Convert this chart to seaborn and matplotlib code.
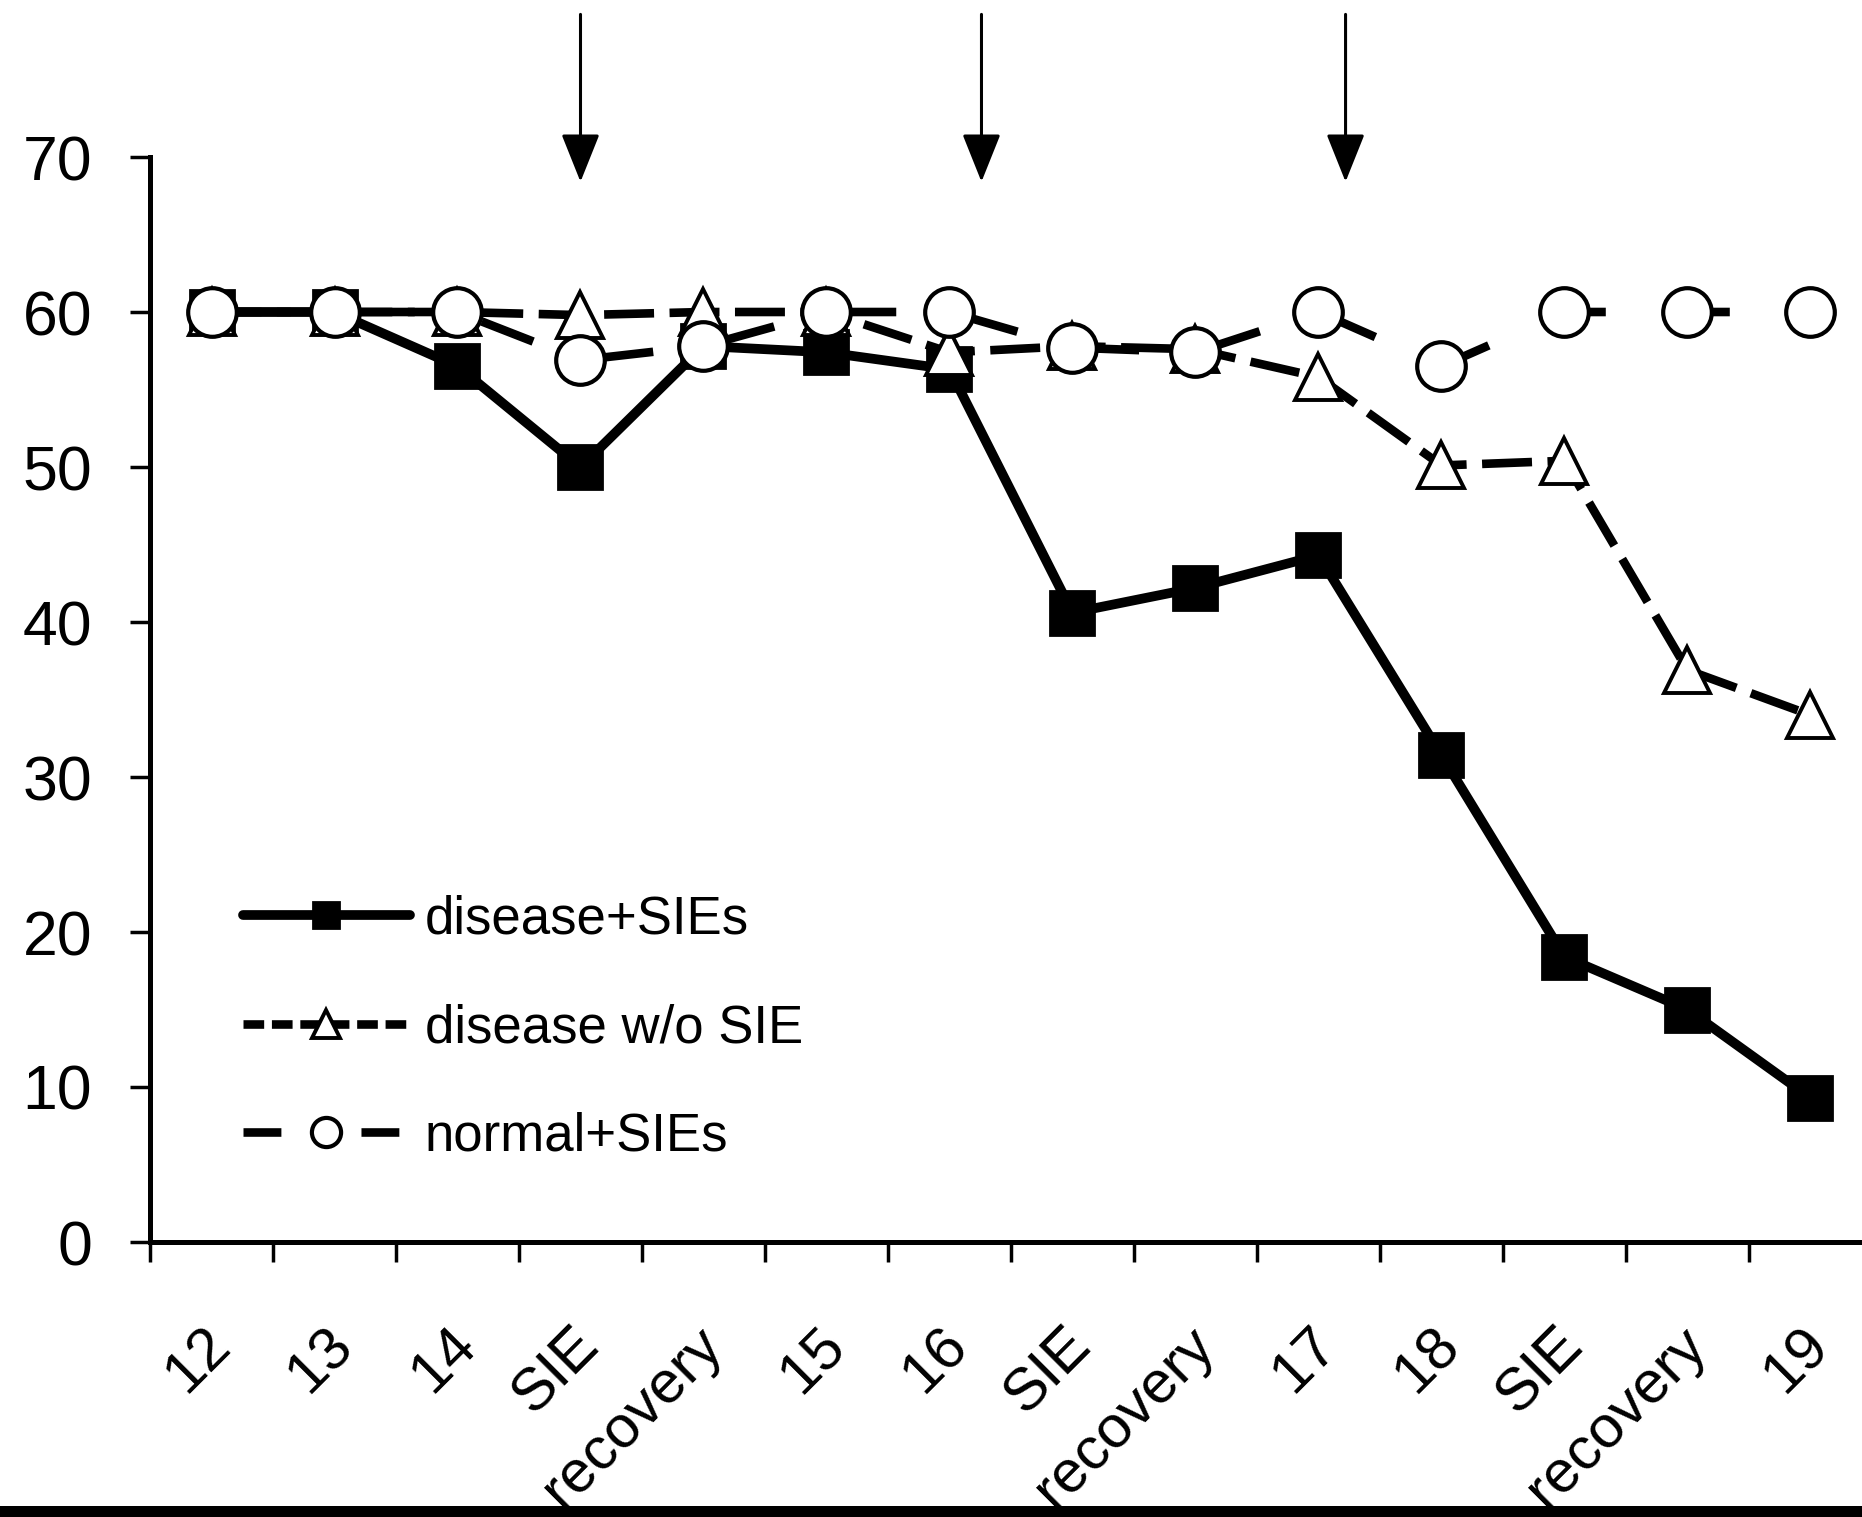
import numpy as np
import pandas as pd
import matplotlib
matplotlib.use("Agg")
import matplotlib.pyplot as plt
import seaborn as sns
from matplotlib.patches import Rectangle, ArrowStyle
from matplotlib.transforms import ScaledTranslation

# ---------------- data ----------------
categories = ["12", "13", "14", "SIE", "recovery", "15", "16", "SIE",
              "recovery", "17", "18", "SIE", "recovery", "19"]
disease_sies = [60, 60, 56.5, 50.0, 57.8, 57.4, 56.3, 40.6, 42.2, 44.3, 31.4, 18.4, 15.0, 9.3]
disease_wo_sie = [60, 60, 60, 59.8, 60, 60, 57.4, 57.8, 57.6, 55.8, 50.1, 50.4, 36.9, 34.0]
normal_sies = [60, 60, 60, 56.9, 57.8, 60, 60, 57.7, 57.4, 60, 56.5, 60, 60, 60]
series_names = ["disease+SIEs", "disease w/o SIE", "normal+SIEs"]
arrow_x = [3.0, 6.26, 9.22]
y_ticks = [0, 10, 20, 30, 40, 50, 60, 70]

# ---------------- style ----------------
sns.set_style("ticks")
plt.rcParams["font.family"] = ["Liberation Sans", "DejaVu Sans"]
plt.rcParams["text.color"] = "black"

W, H = 1862, 1517
fig = plt.figure(figsize=(W / 100, H / 100), dpi=100)
fig.patch.set_facecolor("white")
# axes: left spine at x=150px, x-limit right at 1872px (beyond the figure edge), y0 at 1242px, y70 at 157px
ax = fig.add_axes([150 / W, (H - 1242) / H, 1722 / W, 1085 / H])

x_pos = np.arange(len(categories))
df = pd.DataFrame({
    "x": np.tile(x_pos, 3),
    "value": disease_sies + disease_wo_sie + normal_sies,
    "series": np.repeat(series_names, len(categories)),
})

styles = {
    "disease+SIEs": dict(marker="s", linestyle="-", mfc="black", ms=32, lw=7.0, mew=2.0,
                         leg_ls="-"),
    "disease w/o SIE": dict(marker="^", linestyle=(0, (5.8, 1.8)), mfc="white", ms=33, lw=6.2, mew=2.8,
                            leg_ls=(0, (2.4, 0.9))),
    "normal+SIEs": dict(marker="o", linestyle=(11.6, (6.4, 8.0)), mfc="white", ms=35, lw=6.2, mew=3.0,
                        leg_ls=(0, (4.4, 9.3))),
}

handles = []
for name in series_names:
    st = styles[name]
    sub = df[df["series"] == name]
    sns.lineplot(data=sub, x="x", y="value", ax=ax, sort=False, errorbar=None,
                 color="black", linewidth=st["lw"], linestyle=st["linestyle"],
                 marker=st["marker"], markersize=st["ms"],
                 markerfacecolor=st["mfc"], markeredgecolor="black",
                 markeredgewidth=st["mew"], label=name, legend=False)
    line = ax.lines[-1]
    line.set_label(name)
    handles.append(line)

# ---------------- axes ----------------
ax.set_xlim(-0.5, len(categories) - 0.5)
ax.set_ylim(0, 70)
ax.set_yticks(y_ticks)
ax.set_yticklabels([str(v) for v in y_ticks])
ax.set_xticks(x_pos)
ax.set_xticklabels(categories)
ax.set_xticks(np.arange(-0.5, len(categories), 1.0), minor=True)
ax.set_xlabel("")
ax.set_ylabel("")

for side in ["top", "right"]:
    ax.spines[side].set_visible(False)
for side in ["left", "bottom"]:
    ax.spines[side].set_linewidth(3.6)
    ax.spines[side].set_color("black")

ax.tick_params(axis="y", which="major", direction="out", length=14.5, width=2.5,
               labelsize=45, pad=27, colors="black")
ax.tick_params(axis="x", which="major", length=0, labelsize=43, pad=68, colors="black")
ax.tick_params(axis="x", which="minor", direction="out", length=14.5, width=2.5, colors="black")

offset = ScaledTranslation(10 / 100, 0, fig.dpi_scale_trans)
for lab in ax.get_xticklabels():
    lab.set_rotation(45)
    lab.set_rotation_mode("anchor")
    lab.set_ha("right")
    lab.set_va("center")
    lab.set_transform(lab.get_transform() + offset)

# ---------------- arrows ----------------
astyle = ArrowStyle("-|>", head_length=0.6, head_width=0.24)
for xa in arrow_x:
    ax.annotate("", xy=(xa, 68.4), xytext=(xa, 79.2), xycoords="data",
                arrowprops=dict(arrowstyle=astyle, color="black", lw=2.2,
                                mutation_scale=50, shrinkA=0, shrinkB=0),
                annotation_clip=False)

# ---------------- legend ----------------
leg = ax.legend(handles=handles, labels=series_names, loc="center left",
                bbox_to_anchor=(0.054, 0.197), frameon=False, fontsize=38,
                handlelength=3.16, handletextpad=0.28, labelspacing=1.11,
                borderpad=0, borderaxespad=0, markerscale=0.6, labelcolor="black")
for leg_line, name in zip(leg.get_lines(), series_names):
    leg_line.set_linestyle(styles[name]["leg_ls"])

# black strip at the bottom edge of the picture
fig.add_artist(Rectangle((0, 0), 1, 11 / H, transform=fig.transFigure,
                         facecolor="black", edgecolor="none", zorder=10))

fig.savefig("out.png", dpi=100)
